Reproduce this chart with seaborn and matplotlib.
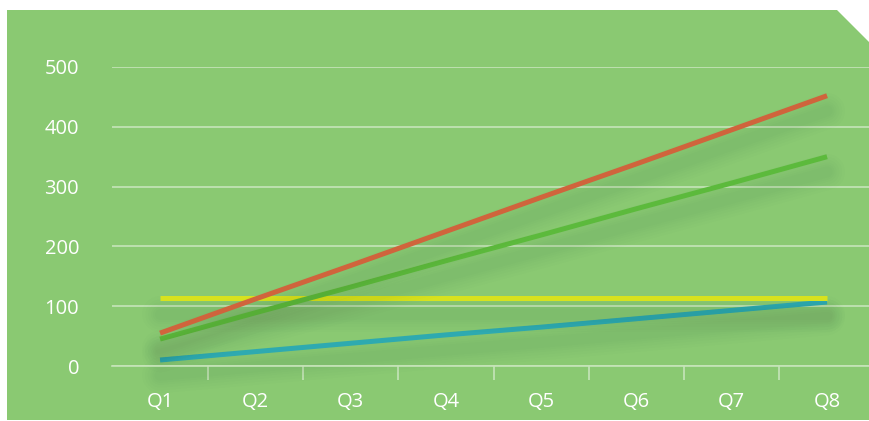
import pandas as pd
import seaborn as sns
import matplotlib.pyplot as plt
import matplotlib.patheffects as pe
from matplotlib.patches import Polygon

quarters = ['Q1', 'Q2', 'Q3', 'Q4', 'Q5', 'Q6', 'Q7', 'Q8']
red_vals = [55, 112, 168, 225, 282, 338, 395, 452]
green_vals = [45, 89, 132, 176, 219, 263, 306, 350]
yellow_vals = [113, 113, 113, 113, 113, 113, 113, 113]
blue_vals = [10, 24, 38, 52, 65, 79, 93, 107]
y_ticks = [0, 100, 200, 300, 400, 500]

series = {
    'blue': (blue_vals, '#2eaab0'),
    'yellow': (yellow_vals, '#d8e21e'),
    'green': (green_vals, '#5cba3c'),
    'red': (red_vals, '#d0643c'),
}

dados = pd.DataFrame({
    'Quarter': quarters * len(series),
    'Value': sum([v[0] for v in series.values()], []),
    'Serie': sum([[k] * len(quarters) for k in series], []),
})

plt.rcParams['font.family'] = ['Open Sans', 'DejaVu Sans']
fig = plt.figure(figsize=(8.7, 4.21), dpi=100, facecolor='white')

# green panel with the cut top-right corner (figure pixel coords)
W, H = 870, 421
pts = [(7, 1), (870, 1), (870, H - 43), (837, H - 10), (7, H - 10)]
fig.patches.append(Polygon([(x / W, y / H) for x, y in pts], closed=True,
                           transform=fig.transFigure, facecolor='#8ac972',
                           edgecolor='none', zorder=-10))

ax = fig.add_axes([112.4 / W, 55 / H, 762.3 / W, 299 / H])
ax.set_facecolor('none')

sns.lineplot(data=dados, x='Quarter', y='Value', hue='Serie',
             palette={k: v[1] for k, v in series.items()},
             linewidth=3.6, legend=False, ax=ax, sort=False)

# soft drop shadow: stacked faint wide strokes with round ends
shadow = []
for lw in [26, 22, 18, 14, 11, 8]:
    shadow.append(pe.SimpleLineShadow(offset=(0, -11), shadow_color='black',
                                      alpha=0.008, linewidth=lw, capstyle='round'))
for ln in ax.lines:
    ln.set_path_effects(shadow + [pe.Normal()])
    ln.set_clip_on(False)
    ln.set_solid_capstyle('butt')

ax.set_xlim(-0.5, 7.5)
ax.set_ylim(0, 500)
ax.set_yticks(y_ticks)
ax.set_xticks(range(len(quarters)))
ax.set_xticklabels(quarters)
ax.set_xticks([i + 0.5 for i in range(len(quarters))], minor=True)

for s in ['top', 'right', 'left']:
    ax.spines[s].set_visible(False)
ax.spines['bottom'].set_color('#c6e4b9')
ax.spines['bottom'].set_linewidth(1.2)
ax.grid(axis='y', color='#c6e4b9', linewidth=1.2)
ax.grid(axis='x', visible=False)
ax.set_axisbelow(True)

ax.tick_params(axis='y', length=0, pad=24, labelsize=14.5, labelcolor='white')
ax.tick_params(axis='x', which='major', length=0, pad=19, labelsize=14.5, labelcolor='white')
ax.tick_params(axis='x', which='minor', length=10, width=1.2, color='#c6e4b9')
ax.set_xlabel('')
ax.set_ylabel('')

fig.savefig('out.png', dpi=100, facecolor='white')
